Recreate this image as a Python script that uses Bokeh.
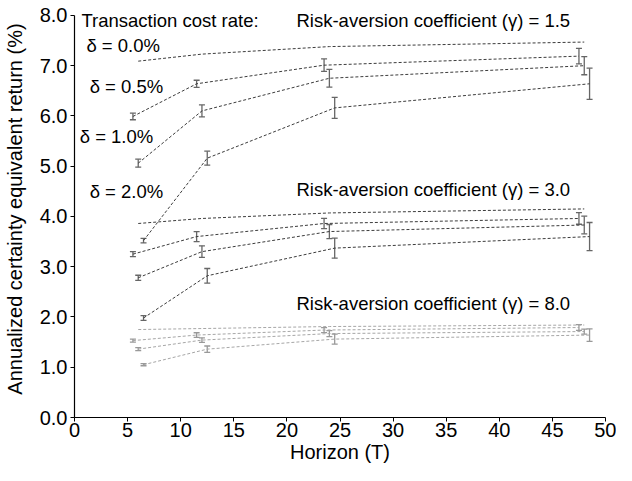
from bokeh.plotting import figure
from bokeh.models import ColumnDataSource, Whisker, TeeHead, Range1d, FixedTicker, PrintfTickFormatter
from bokeh.core.properties import value
from bokeh.embed import file_html
from bokeh.resources import INLINE

# ---------------- data ----------------
horizons = [6, 12, 24, 48]
delta_labels = ["δ = 0.0%", "δ = 0.5%", "δ = 1.0%", "δ = 2.0%"]
delta_dodge = [0.0, -0.5, 0.0, 0.5]
gamma_labels = ["Risk-aversion coefficient (γ) = 1.5",
                "Risk-aversion coefficient (γ) = 3.0",
                "Risk-aversion coefficient (γ) = 8.0"]

# gamma = 1.5
g15_d00 = [7.09, 7.23, 7.38, 7.47]
g15_d05 = [5.99, 6.64, 7.01, 7.19]
g15_d10 = [5.06, 6.10, 6.75, 7.00]
g15_d20 = [3.52, 5.16, 6.16, 6.64]
g15_e05 = [0.066, 0.07, 0.125, 0.155]
g15_e10 = [0.08, 0.12, 0.175, 0.18]
g15_e20 = [0.046, 0.14, 0.21, 0.31]

# gamma = 3.0
g30_d00 = [3.86, 3.96, 4.07, 4.15]
g30_d05 = [3.25, 3.60, 3.86, 3.96]
g30_d10 = [2.78, 3.30, 3.70, 3.83]
g30_d20 = [1.98, 2.82, 3.37, 3.60]
g30_e05 = [0.05, 0.10, 0.10, 0.115]
g30_e10 = [0.05, 0.115, 0.14, 0.175]
g30_e20 = [0.046, 0.145, 0.20, 0.28]

# gamma = 8.0
g80_d00 = [1.75, 1.77, 1.81, 1.84]
g80_d05 = [1.53, 1.64, 1.74, 1.79]
g80_d10 = [1.36, 1.54, 1.67, 1.71]
g80_d20 = [1.05, 1.36, 1.56, 1.64]
g80_e05 = [0.03, 0.046, 0.05, 0.056]
g80_e10 = [0.03, 0.046, 0.06, 0.05]
g80_e20 = [0.02, 0.063, 0.10, 0.125]

y_ticks = [0, 1, 2, 3, 4, 5, 6, 7, 8]
x_ticks = [0, 5, 10, 15, 20, 25, 30, 35, 40, 45, 50]

# ---------------- figure ----------------
FONT = "Liberation Sans"
p = figure(width=616, height=465, output_backend="svg", toolbar_location=None,
           x_range=Range1d(0, 50), y_range=Range1d(0, 8.297),
           min_border_left=0, min_border_right=11, min_border_top=0, min_border_bottom=0)
p.outline_line_color = None
p.xgrid.visible = False
p.ygrid.visible = False
p.background_fill_color = "white"

for ax in (p.xaxis[0], p.yaxis[0]):
    ax.axis_line_color = "black"
    ax.axis_line_width = 1.2
    ax.major_tick_line_color = "black"
    ax.major_tick_out = 4
    ax.major_tick_in = 0
    ax.minor_tick_line_color = None
    ax.major_label_text_font = FONT
    ax.major_label_text_font_size = "20px"
    ax.major_label_text_color = "black"
    ax.axis_label_text_font = FONT
    ax.axis_label_text_font_size = "20px"
    ax.axis_label_text_font_style = "normal"
    ax.axis_label_text_color = "black"

p.yaxis.bounds = (0, 8)
p.xaxis.ticker = FixedTicker(ticks=x_ticks)
p.yaxis.ticker = FixedTicker(ticks=y_ticks)
p.yaxis.formatter = PrintfTickFormatter(format="%.1f")
p.xaxis.axis_label = "Horizon (T)"
p.yaxis.axis_label = "Annualized certainty equivalent return (%)"
p.xaxis.major_label_standoff = 1
p.yaxis.major_label_standoff = 3
p.xaxis.axis_label_standoff = 1
p.yaxis.axis_label_standoff = 11

groups = [
    ([g15_d00, g15_d05, g15_d10, g15_d20], [None, g15_e05, g15_e10, g15_e20], "#3c3c3c", "#666666"),
    ([g30_d00, g30_d05, g30_d10, g30_d20], [None, g30_e05, g30_e10, g30_e20], "#3c3c3c", "#666666"),
    ([g80_d00, g80_d05, g80_d10, g80_d20], [None, g80_e05, g80_e10, g80_e20], "#a6a6a6", "#999999"),
]

for means, errs, lcol, ecol in groups:
    for i, ys in enumerate(means):
        xs = [h + delta_dodge[i] for h in horizons]
        p.line(xs, ys, line_color=lcol, line_width=1, line_dash="3 2")
        if errs[i] is not None:
            src = ColumnDataSource(dict(x=xs,
                                        upper=[y + e for y, e in zip(ys, errs[i])],
                                        lower=[y - e for y, e in zip(ys, errs[i])]))
            w = Whisker(source=src, base="x", upper="upper", lower="lower",
                        line_color=ecol, line_width=1.3,
                        upper_head=TeeHead(size=6, line_color=ecol, line_width=1.3),
                        lower_head=TeeHead(size=6, line_color=ecol, line_width=1.3))
            p.add_layout(w)

# annotations
ann = ColumnDataSource(dict(
    x=[0.65, 1.12, 1.43, 0.49, 1.43, 20.9, 20.9, 20.9],
    y=[7.90, 7.40, 6.58, 5.59, 4.50, 7.90, 4.53, 2.26],
    t=["Transaction cost rate:"] + delta_labels + gamma_labels,
))
p.text(x="x", y="y", text="t", source=ann, text_font=value(FONT), text_font_size="18.5px",
       text_align="left", text_baseline="middle", text_color="black")

open("out.html", "w").write(file_html(p, INLINE))
